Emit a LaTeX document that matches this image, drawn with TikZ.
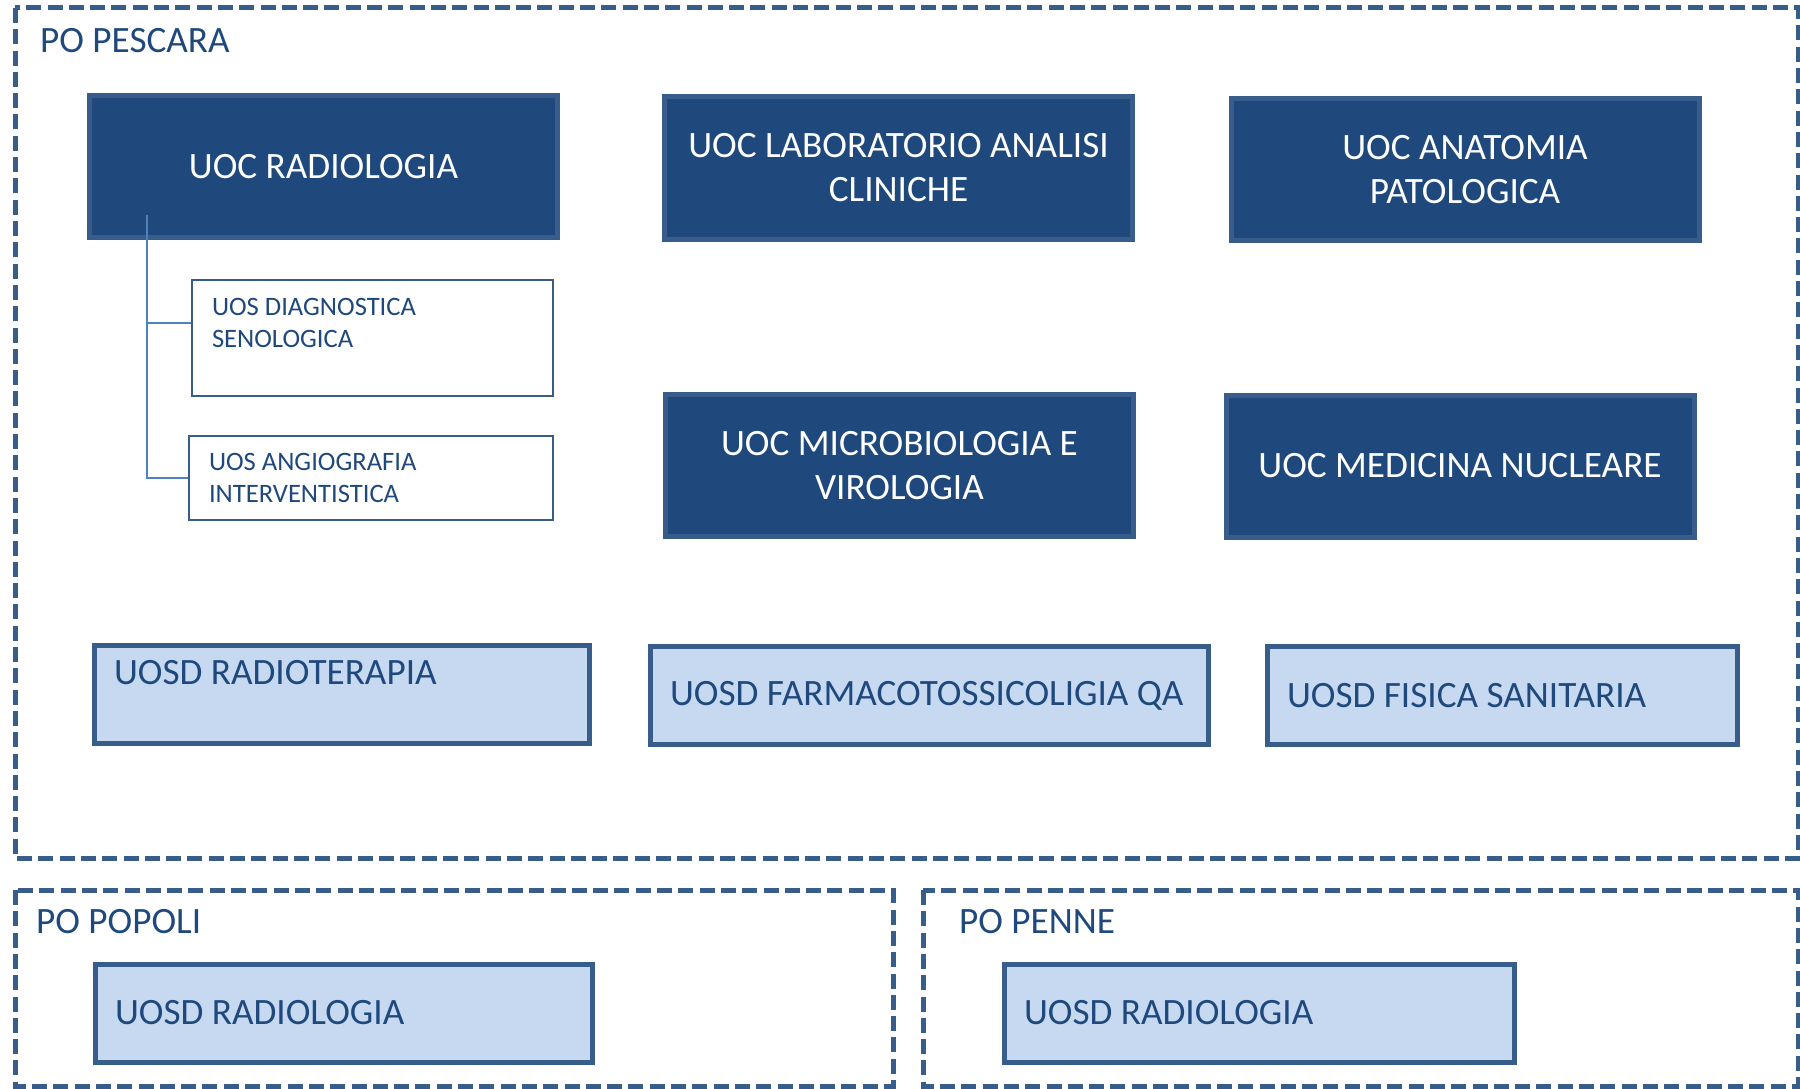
\documentclass[tikz,border=0pt]{standalone}
\usepackage{fontspec}
\setmainfont{Carlito}

\definecolor{darkfill}{HTML}{1F497D}
\definecolor{edgeblue}{HTML}{385D8A}
\definecolor{lightfill}{HTML}{C6D9F1}
\definecolor{txtblue}{HTML}{1F497D}
\definecolor{connblue}{HTML}{4F81BD}

\newcommand{\bigtxt}{\fontsize{37.2}{44}\selectfont}
\newcommand{\smalltxt}{\fontsize{26.6}{32}\selectfont}

\begin{document}
\begin{tikzpicture}[x=1pt, y=-1pt,
    darkbox/.style={draw=edgeblue, fill=darkfill, line width=5pt, text=white, font=\bigtxt, align=center, minimum width=468pt, minimum height=142pt, inner sep=0pt},
    lightbox/.style={draw=edgeblue, fill=lightfill, line width=5pt, text=txtblue, font=\bigtxt, align=flush left, minimum height=98pt, inner xsep=20pt, inner ysep=0pt},
    subbox/.style={draw=edgeblue, fill=white, line width=2.5pt, text=txtblue, font=\smalltxt, align=flush left, inner xsep=20pt, inner ysep=0pt},
    areabox/.style={draw=edgeblue, line width=5pt, dash pattern=on 15pt off 6.3pt},
    arealabel/.style={text=txtblue, font=\bigtxt, anchor=west, inner sep=0pt},
    conn/.style={draw=connblue, line width=2pt}]
    % Page frame
    \useasboundingbox (0,0) rectangle (1800,1089);

    % Dashed areas
    \draw[areabox] (15,8) rectangle (1798,858);
    \draw[areabox] (15,890) rectangle (893,1086);
    \draw[areabox] (923,890) rectangle (1798,1086);
    \node[arealabel] (pescara) at (40,41) {PO PESCARA};
    \node[arealabel] (popoli) at (36,922) {PO POPOLI};
    \node[arealabel] (penne) at (959,922) {PO PENNE};

    % UOC boxes
    \foreach \n/\x/\y/\t in {rad/323.5/166.5/{UOC RADIOLOGIA},
        lab/898.5/168/{UOC LABORATORIO ANALISI\\CLINICHE},
        anat/1465/169.5/{UOC ANATOMIA\\PATOLOGICA},
        micro/899.5/465.5/{UOC MICROBIOLOGIA E\\VIROLOGIA},
        nucl/1460/466/{UOC MEDICINA NUCLEARE}}
    {
        \node[darkbox] (\n) at (\x,\y) {\t};
    }

    % UOS boxes under radiologia
    \node[subbox, text width=321pt, minimum height=116pt] (diag) at (372.5,338) {\strut UOS DIAGNOSTICA\\SENOLOGICA\\\rule[-3pt]{0pt}{0pt}};
    \node[subbox, text width=324pt, minimum height=84pt] (angio) at (371,478) {UOS ANGIOGRAFIA\\INTERVENTISTICA};

    % UOSD boxes
    \node[lightbox, text width=455pt] (radiot) at (341.5,694) {\strut UOSD RADIOTERAPIA\\\rule[-6pt]{0pt}{0pt}};
    \node[lightbox, text width=518pt] (farm) at (929,695.5) {UOSD FARMACOTOSSICOLIGIA QA};
    \node[lightbox, text width=430pt] (fis) at (1502,695.5) {UOSD FISICA SANITARIA};
    \node[lightbox, text width=457pt] (radpop) at (343.5,1013) {UOSD RADIOLOGIA};
    \node[lightbox, text width=470pt] (radpen) at (1259,1013) {UOSD RADIOLOGIA};

    % Connectors
    \coordinate (stem) at (147,215);
    \draw[conn] (stem) |- ([yshift=15pt]diag.west);
    \draw[conn] (stem) |- (angio.west);
\end{tikzpicture}
\end{document}
